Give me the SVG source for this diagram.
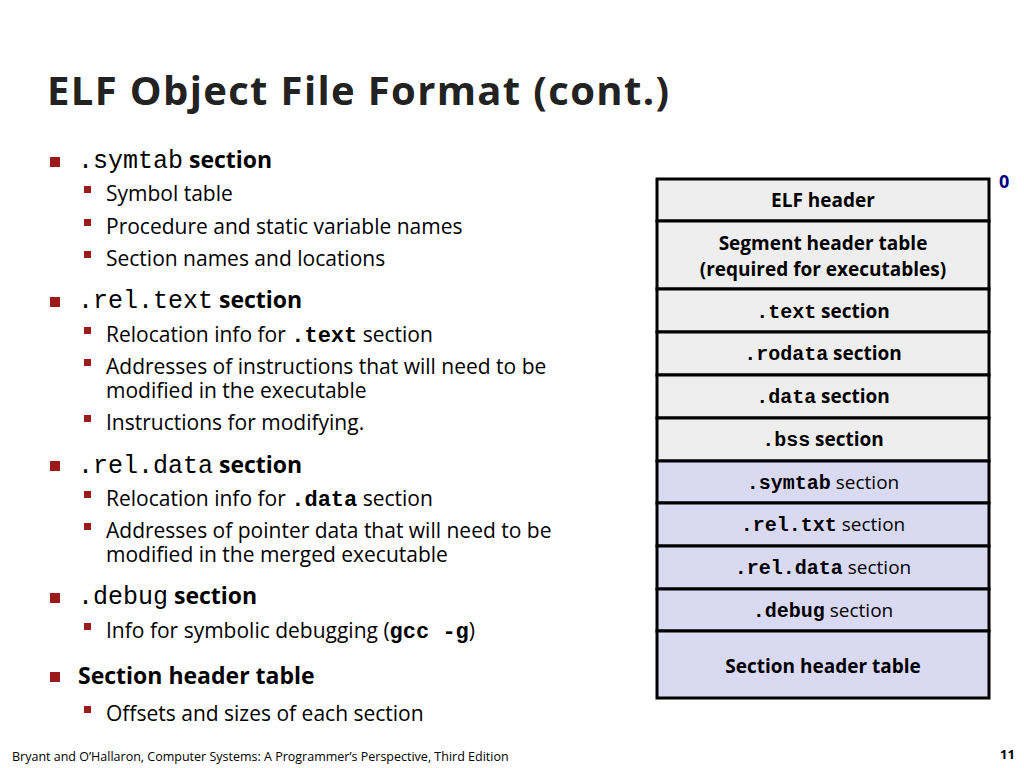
<svg xmlns="http://www.w3.org/2000/svg" width="1024" height="768" viewBox="0 0 1024 768">
<style>
text{font-family:"Open Sans","Noto Sans",sans-serif;fill:#000}
.t{font-size:21px}
.h{font-size:23px;font-weight:bold}
.m{font-family:"Liberation Mono",monospace;font-weight:normal}
.mb{font-family:"Liberation Mono",monospace;font-weight:bold;font-size:22px}
.tb{font-family:"Liberation Mono",monospace;font-weight:bold;font-size:20px}
.b{font-size:19px;font-weight:bold}
.n{font-size:19px}
.g{fill:#eeeeee;stroke:#000;stroke-width:3}
.l{fill:#d9d9f2;stroke:#000;stroke-width:3}
.c{text-anchor:middle}
.sq{fill:#9b1b1b}
</style>
<rect width="1024" height="768" fill="#fff"/>
<text x="47" y="105" style="font-size:40px;font-weight:bold;fill:#222" textLength="622">ELF Object File Format (cont.)</text>
<g id="bullets">
<rect class="sq" x="50" y="157" width="10" height="10"/>
<text x="78" y="168" class="h"><tspan class="m" style="font-size:25px">.symtab</tspan> section</text>
<rect class="sq" x="84" y="186" width="7" height="7"/><text x="106" y="201" class="t">Symbol table</text>
<rect class="sq" x="84" y="219" width="7" height="7"/><text x="106" y="234" class="t">Procedure and static variable names</text>
<rect class="sq" x="84" y="251" width="7" height="7"/><text x="106" y="266" class="t">Section names and locations</text>
<rect class="sq" x="50" y="297" width="10" height="10"/>
<text x="78" y="308" class="h"><tspan class="m" style="font-size:25px">.rel.text</tspan> section</text>
<rect class="sq" x="84" y="327" width="7" height="7"/><text x="106" y="342" class="t">Relocation info for <tspan class="mb">.text</tspan> section</text>
<rect class="sq" x="84" y="359" width="7" height="7"/><text x="106" y="374" class="t">Addresses of instructions that will need to be</text>
<text x="106" y="398" class="t">modified in the executable</text>
<rect class="sq" x="84" y="415" width="7" height="7"/><text x="106" y="430" class="t">Instructions for modifying.</text>
<rect class="sq" x="50" y="461" width="10" height="10"/>
<text x="78" y="473" class="h"><tspan class="m" style="font-size:25px">.rel.data</tspan> section</text>
<rect class="sq" x="84" y="491" width="7" height="7"/><text x="106" y="506" class="t">Relocation info for <tspan class="mb">.data</tspan> section</text>
<rect class="sq" x="84" y="523" width="7" height="7"/><text x="106" y="538" class="t">Addresses of pointer data that will need to be</text>
<text x="106" y="562" class="t">modified in the merged executable</text>
<rect class="sq" x="50" y="593" width="10" height="10"/>
<text x="78" y="604" class="h"><tspan class="m" style="font-size:25px">.debug</tspan> section</text>
<rect class="sq" x="84" y="623" width="7" height="7"/><text x="106" y="638" class="t">Info for symbolic debugging (<tspan class="mb">gcc -g</tspan>)</text>
<rect class="sq" x="50" y="672" width="10" height="10"/>
<text x="78" y="684" class="h">Section header table</text>
<rect class="sq" x="84" y="706" width="7" height="7"/><text x="106" y="721" class="t">Offsets and sizes of each section</text>
</g>
<g id="n0"><rect class="g" x="657" y="179" width="332" height="42"/><text x="823" y="207" class="b c">ELF header</text></g>
<g id="n1"><rect class="g" x="657" y="221" width="332" height="68"/><text x="823" y="250" class="b c">Segment header table</text><text x="823" y="276" class="b c">(required for executables)</text></g>
<g id="n2"><rect class="g" x="657" y="289" width="332" height="43"/><text x="823" y="318" class="b c"><tspan class="tb">.text</tspan> section</text></g>
<g id="n3"><rect class="g" x="657" y="332" width="332" height="43"/><text x="823" y="360" class="b c"><tspan class="tb">.rodata</tspan> section</text></g>
<g id="n4"><rect class="g" x="657" y="375" width="332" height="43"/><text x="823" y="403" class="b c"><tspan class="tb">.data</tspan> section</text></g>
<g id="n5"><rect class="g" x="657" y="418" width="332" height="43"/><text x="823" y="446" class="b c"><tspan class="tb">.bss</tspan> section</text></g>
<g id="n6"><rect class="l" x="657" y="461" width="332" height="42"/><text x="823" y="489" class="n c"><tspan class="tb">.symtab</tspan> section</text></g>
<g id="n7"><rect class="l" x="657" y="503" width="332" height="43"/><text x="823" y="531" class="n c"><tspan class="tb">.rel.txt</tspan> section</text></g>
<g id="n8"><rect class="l" x="657" y="546" width="332" height="43"/><text x="823" y="574" class="n c"><tspan class="tb">.rel.data</tspan> section</text></g>
<g id="n9"><rect class="l" x="657" y="589" width="332" height="42"/><text x="823" y="617" class="n c"><tspan class="tb">.debug</tspan> section</text></g>
<g id="n10"><rect class="l" x="657" y="631" width="332" height="67"/><text x="823" y="673" class="b c">Section header table</text></g>
<g id="connectors"></g>
<text x="999" y="188" style="font-size:18px;font-weight:bold;fill:#000080">0</text>
<text x="12" y="761" style="font-size:12.5px">Bryant and O’Hallaron, Computer Systems: A Programmer’s Perspective, Third Edition</text>
<text x="1000" y="759" style="font-size:13px;font-weight:bold">11</text>
</svg>
